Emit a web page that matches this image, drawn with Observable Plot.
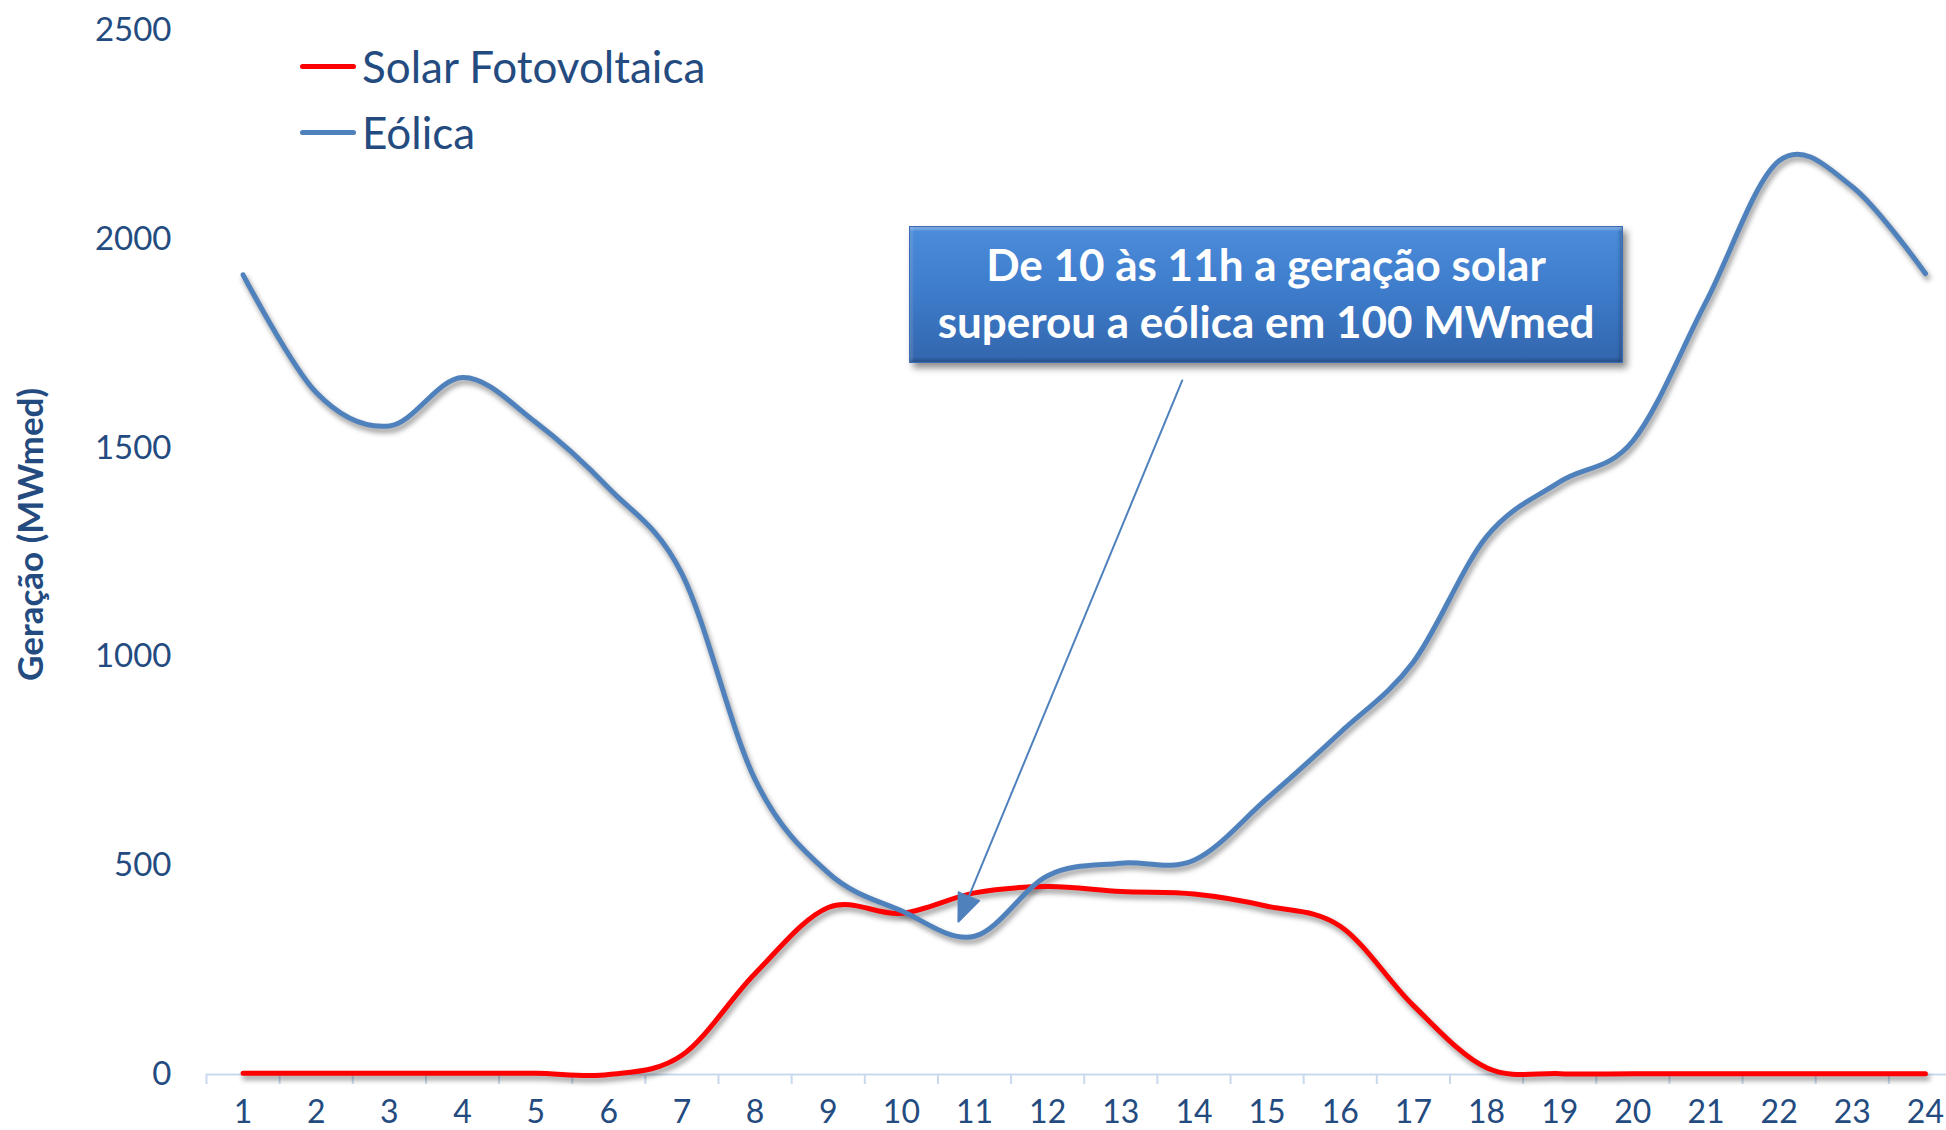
<!DOCTYPE html>
<html>
<head>
<meta charset="utf-8">
<script src="https://cdn.jsdelivr.net/npm/d3@7"></script>
<script src="https://cdn.jsdelivr.net/npm/@observablehq/plot@0.6"></script>
<style>
  body { margin: 0; background: #fff; }
  #wrap { position: relative; width: 1946px; height: 1130px; overflow: hidden; font-family: Lato, "Open Sans", sans-serif; }
  #wrap svg { position: absolute; left: 0; top: 0; }
  .leg { position: absolute; left: 300px; display: flex; align-items: center; font-size: 44px; line-height: 44px; color: #244b80; white-space: nowrap; }
  .leg .sw { width: 56px; height: 5px; border-radius: 3px; margin-right: 6px; }
  #box { position: absolute; left: 909px; top: 226px; width: 714px; height: 137px; box-sizing: border-box;
         padding-top: 9px; text-align: center; color: #fff; font-weight: bold; font-size: 44px; line-height: 57px;
         background: linear-gradient(#4b8cdb 0%, #3e7dcc 45%, #3366ad 100%);
         border: 1px solid #3a6db5;
         box-shadow: 4px 5px 7px rgba(0,0,0,0.45), inset 0 3px 2px rgba(255,255,255,0.25), inset 0 -3px 3px rgba(0,0,0,0.18), inset 3px 0 2px rgba(255,255,255,0.12), inset -3px 0 3px rgba(0,0,0,0.15);
         white-space: nowrap; }
  .shadow { filter: blur(2.5px); }
</style>
</head>
<body>
<div id="wrap"></div>
<script>
// ---- data ----
const hours = [1, 2, 3, 4, 5, 6, 7, 8, 9, 10, 11, 12, 13, 14, 15, 16, 17, 18, 19, 20, 21, 22, 23, 24];
const solar = [3, 3, 3, 3, 3, 0, 46, 242, 400, 386, 435, 450, 438, 432, 403, 355, 165, 16, 2, 2, 2, 2, 2, 2];
const eolica = [1915, 1633, 1553, 1669, 1562, 1404, 1199, 706, 483, 392, 331, 476, 506, 513, 661, 819, 988, 1288, 1419, 1517, 1850, 2188, 2126, 1918];
const seriesNames = ["Solar Fotovoltaica", "Eólica"];
const seriesColors = ["#ff0000", "#4f81bd"];
const yTicks = [0, 500, 1000, 1500, 2000, 2500];
const hourBoundaries = [0.5, 1.5, 2.5, 3.5, 4.5, 5.5, 6.5, 7.5, 8.5, 9.5, 10.5, 11.5, 12.5, 13.5, 14.5, 15.5, 16.5, 17.5, 18.5, 19.5, 20.5, 21.5, 22.5, 23.5, 24.5];
const yTitle = "Geração (MWmed)";
const noteLines = ["De 10 às 11h a geração solar", "superou a eólica em 100 MWmed"];
const arrowNote = [{ fromHour: 13.84, fromValue: 1662, toHour: 10.78, toValue: 366 }];

// ---- table ----
const rows = [];
hours.forEach((h, i) => {
  rows.push({ hora: h, serie: seriesNames[0], valor: solar[i] });
  rows.push({ hora: h, serie: seriesNames[1], valor: eolica[i] });
});

const textColor = "#244b80";
const axisColor = "#c9d9ee";

const chart = Plot.plot({
  width: 1946,
  height: 1130,
  marginLeft: 206,
  marginRight: 0,
  marginTop: 30,
  marginBottom: 56,
  style: { fontFamily: "Lato, 'Open Sans', sans-serif", color: textColor, background: "transparent", overflow: "hidden" },
  x: { type: "linear", domain: [0.5, 24.5], range: [206, 1961.5], label: null },
  y: { domain: [0, 2500], label: null },
  color: { domain: seriesNames, range: seriesColors },
  marks: [
    Plot.ruleY([0], { stroke: axisColor, strokeWidth: 2 }),
    Plot.axisX({ ticks: hourBoundaries, tickSize: 10, stroke: axisColor, strokeWidth: 2, tickFormat: () => "" }),
    Plot.axisX({ ticks: hours, tickSize: 0, tickPadding: 26, fontSize: 32, tickFormat: d => String(d) }),
    Plot.axisY({ ticks: yTicks, tickSize: 0, tickPadding: 35, fontSize: 33, tickFormat: d => String(d) }),
    Plot.text([yTitle], { frameAnchor: "left", textAnchor: "middle", rotate: -90, dx: -175, dy: -18, fontSize: 35, fontWeight: "bold", fill: textColor }),
    Plot.line(rows, { x: "hora", y: "valor", z: "serie", stroke: "#000", strokeOpacity: 0.35, strokeWidth: 6, curve: "cardinal", dx: 2, dy: 4, className: "shadow" }),
    Plot.line(rows, { x: "hora", y: "valor", z: "serie", stroke: "serie", strokeWidth: 5, curve: "cardinal" }),
    Plot.arrow(arrowNote, { x1: "fromHour", y1: "fromValue", x2: "toHour", y2: "toValue", stroke: "#4f81bd", strokeWidth: 2, headLength: 22, headAngle: 44, inset: 0 })
  ]
});

const wrap = document.getElementById("wrap");
wrap.appendChild(chart);

// fill the arrowhead (the reference shows a solid triangle)
chart.querySelectorAll('g[aria-label="arrow"] path').forEach(p => {
  const n = (p.getAttribute("d") || "").match(/-?\d+(\.\d+)?(e-?\d+)?/g);
  if (n && n.length >= 10) {
    const v = n.map(Number);
    const poly = document.createElementNS("http://www.w3.org/2000/svg", "polygon");
    poly.setAttribute("points", `${v[4]},${v[5]} ${v[6]},${v[7]} ${v[8]},${v[9]}`);
    poly.setAttribute("fill", "#4f81bd");
    poly.setAttribute("stroke", "#4f81bd");
    poly.setAttribute("stroke-width", "1");
    p.parentNode.appendChild(poly);
  }
});

// legend
seriesNames.forEach((name, i) => {
  const row = document.createElement("div");
  row.className = "leg";
  row.style.top = (44 + i * 66) + "px";
  const sw = document.createElement("span");
  sw.className = "sw";
  sw.style.background = seriesColors[i];
  const t = document.createElement("span");
  t.textContent = name;
  row.appendChild(sw);
  row.appendChild(t);
  wrap.appendChild(row);
});

// annotation box
const box = document.createElement("div");
box.id = "box";
noteLines.forEach(l => {
  const d = document.createElement("div");
  d.textContent = l;
  box.appendChild(d);
});
wrap.appendChild(box);
</script>
</body>
</html>
